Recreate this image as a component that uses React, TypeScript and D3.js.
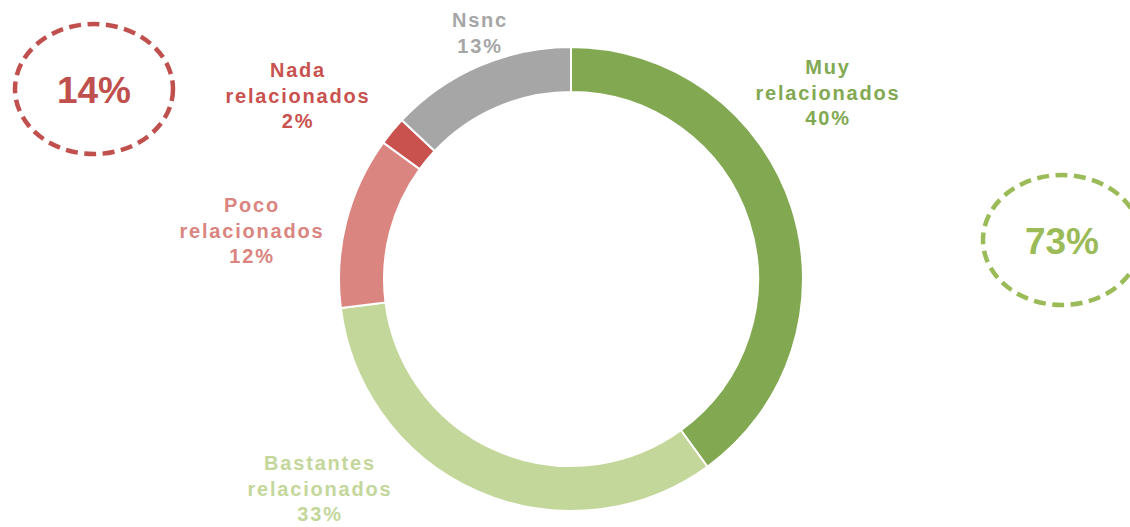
import * as d3 from 'd3';

// slice order, clockwise from 12 o'clock
const categories = ['Muy relacionados', 'Bastantes relacionados', 'Poco relacionados', 'Nada relacionados', 'Nsnc'];
const values = [40, 33, 12, 2, 13];
const colors = ['#82A952', '#C4D79B', '#DA8580', '#C9524E', '#A6A6A6'];
const labelLines = [
  ['Muy', 'relacionados', '40%'],
  ['Bastantes', 'relacionados', '33%'],
  ['Poco', 'relacionados', '12%'],
  ['Nada', 'relacionados', '2%'],
  ['Nsnc', '13%'],
];
const labelPos = [
  [828, 74],
  [320, 470],
  [252, 212],
  [298, 77],
  [480, 27],
];

// grouped totals in dashed ellipses
const totals = ['14%', '73%'];
const totalColors = ['#C0504D', '#9BBB59'];
const totalPos = [
  [94, 89],
  [1062, 240],
];

const W = 1130;
const H = 527;
const cx = 571;
const cy = 279;
const outerR = 232;
const innerR = 187;
const font = '"Liberation Sans", Arial, sans-serif';

const App = () => {
  const pie = d3.pie<number>().sort(null).value(d => d);
  const arcs = pie(values);
  const arc = d3.arc<d3.PieArcDatum<number>>().innerRadius(innerR).outerRadius(outerR);

  return (
    <svg width={W} height={H} style={{ position: 'absolute', left: 0, top: 0, background: '#fff' }}>
      <g transform={`translate(${cx},${cy})`}>
        {arcs.map((a, i) => (
          <path key={categories[i]} d={arc(a) || ''} fill={colors[i]} stroke="#fff" strokeWidth={2} />
        ))}
      </g>

      {labelLines.map((lines, i) => (
        <text
          key={categories[i]}
          x={labelPos[i][0]}
          y={labelPos[i][1]}
          fill={colors[i]}
          textAnchor="middle"
          fontFamily={font}
          fontWeight="bold"
          fontSize={20}
          letterSpacing={1.8}
        >
          {lines.map((l, j) => (
            <tspan key={j} x={labelPos[i][0]} dy={j === 0 ? 0 : 25.5}>{l}</tspan>
          ))}
        </text>
      ))}

      {totals.map((t, i) => (
        <g key={t} transform={`translate(${totalPos[i][0]},${totalPos[i][1]})`}>
          <ellipse rx={79} ry={65} fill="none" stroke={totalColors[i]} strokeWidth={4.5} strokeDasharray="12 6.5" />
          <text
            y={14}
            textAnchor="middle"
            fill={totalColors[i]}
            fontFamily={font}
            fontWeight="bold"
            fontSize={37}
          >
            {t}
          </text>
        </g>
      ))}
    </svg>
  );
};

export default App;
